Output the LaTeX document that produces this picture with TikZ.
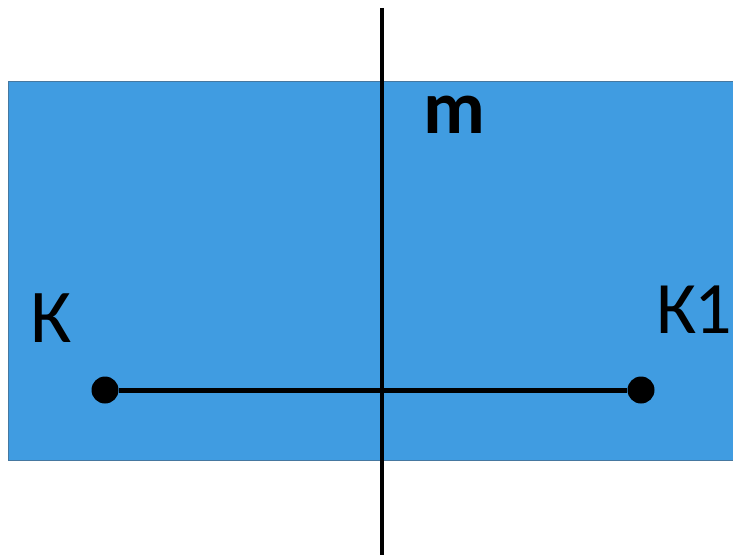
\documentclass[tikz,border=0pt]{standalone}
\usepackage{fontspec}
\setmainfont{Carlito}
\usetikzlibrary{positioning}
\definecolor{planeblue}{RGB}{64,156,225}
\definecolor{planeedge}{RGB}{70,120,160}

\begin{document}
\begin{tikzpicture}[
    x=1pt, y=-1pt,
    plane/.style={fill=planeblue, draw=planeedge, line width=1pt},
    axis/.style={line width=4pt, black},
    segm/.style={line width=5pt, black},
    dot/.style={circle, fill=black, inner sep=0pt, minimum size=27pt},
    lbl/.style={inner sep=0pt, font=\fontsize{76}{76}\selectfont}
]
\useasboundingbox (0,0) rectangle (733,559);

% plane
\fill[plane] (8,82) rectangle (740,460);

% mirror line
\coordinate (top) at (382,8);
\coordinate (bot) at (382,555);
\draw[axis] (top) -- (bot);

% points and segment
\node[dot] (K) at (105,390) {};
\node[dot] (K1) at (641,390) {};
\draw[segm] (K) -- (K1);

% labels
\node[lbl, anchor=base west] (lK) at (30,342) {К};
\node[lbl, anchor=base west, font=\fontsize{74}{74}\selectfont] (lK1) at (656,333) {К\kern-2pt1};
\node[lbl, anchor=base west, font=\fontsize{76}{76}\selectfont\bfseries] (lm) at (423,133) {m};
\end{tikzpicture}
\end{document}
